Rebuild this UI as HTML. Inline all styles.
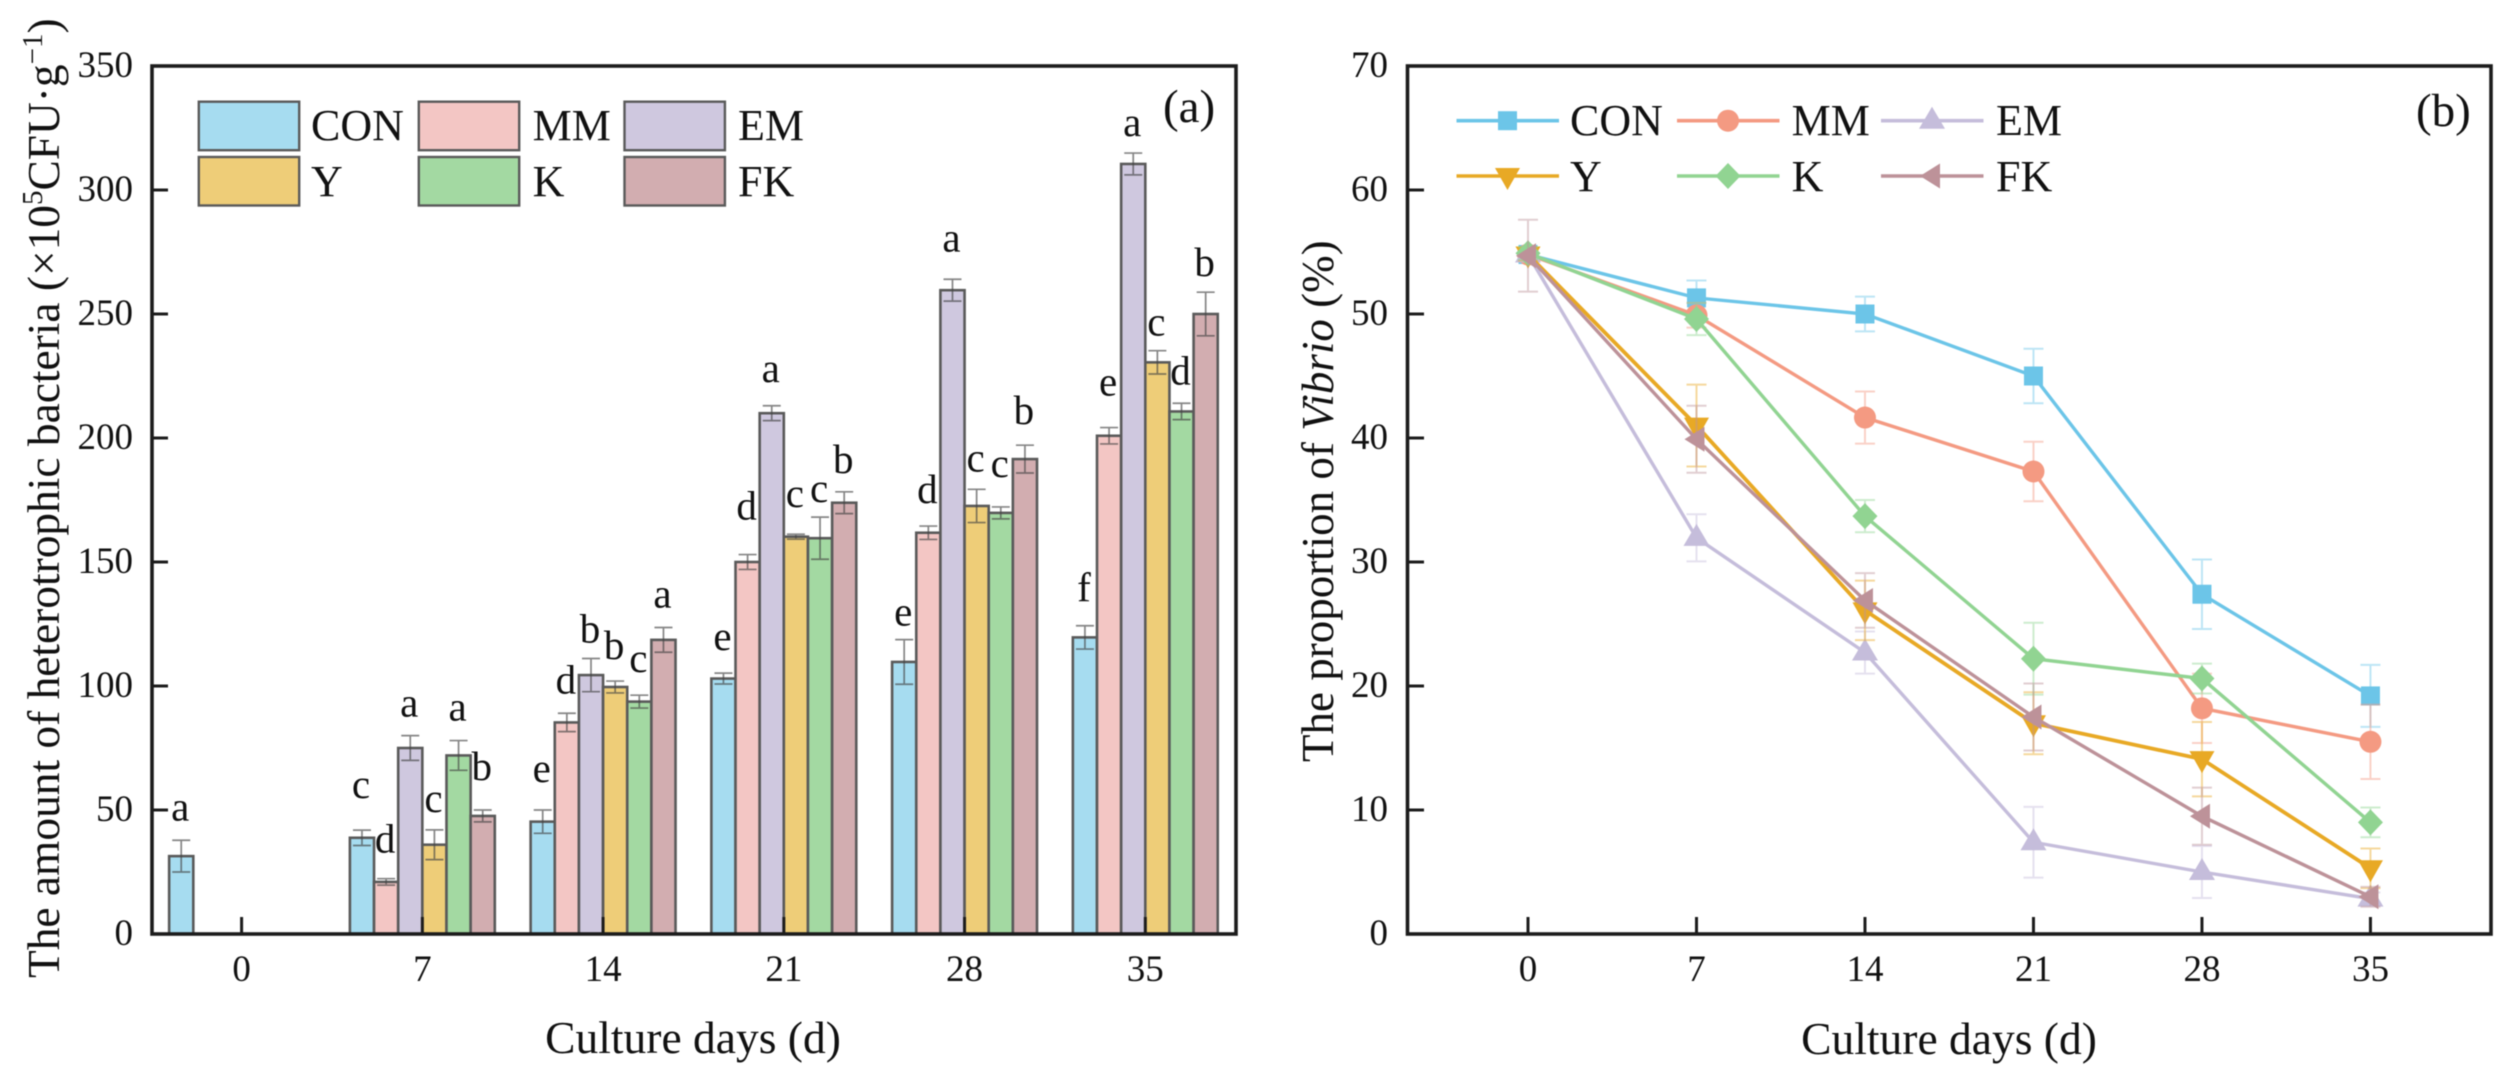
<!DOCTYPE html>
<html lang="en">
<head>
<meta charset="utf-8">
<title>Heterotrophic bacteria and Vibrio proportion over culture days</title>
<style>
  html, body { margin: 0; padding: 0; background: #fff; }
  svg { display: block; filter: blur(0.6px); }
  text { font-family: "Liberation Serif", serif; fill: #111; }
</style>
</head>
<body>
<svg id="figure" xmlns="http://www.w3.org/2000/svg" width="2515" height="1086" viewBox="0 0 2515 1086">
  <rect x="0" y="0" width="2515" height="1086" fill="#fff"/>
  <g id="panel-a"></g>
  <g id="panel-b"></g>

  <text transform="translate(59,978) rotate(-90)" font-size="45.4">The amount of heterotrophic bacteria (×10<tspan dy="-17" font-size="29">5</tspan><tspan dy="17">CFU·g</tspan><tspan dy="-17" font-size="29">−1</tspan><tspan dy="17">)</tspan></text>
  <text x="693" y="1053" font-size="45.5" text-anchor="middle">Culture days (d)</text>
  <text x="1163" y="122" font-size="47">(a)</text>

  <text transform="translate(1333,762) rotate(-90)" font-size="45">The proportion of <tspan font-style="italic">Vibrio</tspan> (%)</text>
  <text x="1949" y="1054" font-size="45.5" text-anchor="middle">Culture days (d)</text>
  <text x="2416" y="126" font-size="47">(b)</text>
</svg>

<script>
// ---------- shared categories ----------
const days = [0, 7, 14, 21, 28, 35];
const seriesNames = ['CON', 'MM', 'EM', 'Y', 'K', 'FK'];

// ---------- panel (a): heterotrophic bacteria ----------
const yTicksA = [0, 50, 100, 150, 200, 250, 300, 350];
const bacteriaCON = [31.4, 38.8, 45.3, 103, 109.7, 119.6];
const bacteriaMM  = [null, 21, 85.3, 150, 161.8, 200.9];
const bacteriaEM  = [null, 75, 104.4, 210, 259.6, 310.5];
const bacteriaY   = [null, 36, 99.6, 160.2, 172.6, 230.5];
const bacteriaK   = [null, 72, 93.7, 159.6, 169.8, 210.7];
const bacteriaFK  = [null, 47.6, 118.6, 173.9, 191.5, 250];
const bacteriaErrCON = [6.4, 3.1, 4.7, 2.2, 9, 4.7];
const bacteriaErrMM  = [null, 1.3, 3.7, 3, 2.7, 3.3];
const bacteriaErrEM  = [null, 5, 6.7, 3, 4.4, 4.4];
const bacteriaErrY   = [null, 6, 2.4, 1, 6.7, 4.7];
const bacteriaErrK   = [null, 6, 2.6, 8.5, 2.4, 3.3];
const bacteriaErrFK  = [null, 2.4, 5, 4.4, 5.6, 8.8];
const lettersCON = ['a', 'c', 'e', 'e', 'e', 'f'];
const lettersMM  = ['', 'd', 'd', 'd', 'd', 'e'];
const lettersEM  = ['', 'a', 'b', 'a', 'a', 'a'];
const lettersY   = ['', 'c', 'b', 'c', 'c', 'c'];
const lettersK   = ['', 'a', 'c', 'c', 'c', 'd'];
const lettersFK  = ['', 'b', 'a', 'b', 'b', 'b'];

// ---------- panel (b): proportion of Vibrio ----------
const yTicksB = [0, 10, 20, 30, 40, 50, 60, 70];
const vibrioCON = [54.8, 51.3, 50, 45, 27.4, 19.2];
const vibrioMM  = [54.8, 49.9, 41.65, 37.3, 18.2, 15.5];
const vibrioEM  = [54.8, 31.95, 22.7, 7.4, 5, 2.85];
const vibrioY   = [54.8, 41, 26.1, 17, 14.1, 5.3];
const vibrioK   = [54.9, 49.6, 33.7, 22.2, 20.6, 9];
const vibrioFK  = [54.7, 39.9, 26.9, 17.5, 9.5, 3];
const vibrioErrCON = [0.5, 1.4, 1.4, 2.2, 2.8, 2.5];
const vibrioErrMM  = [0.5, 1, 2.1, 2.4, 2.8, 3];
const vibrioErrEM  = [0.5, 1.9, 1.7, 2.85, 2.1, 0.5];
const vibrioErrY   = [0.5, 3.3, 2.4, 2.5, 3, 1.6];
const vibrioErrK   = [0.5, 1.3, 1.3, 2.9, 1.2, 1.2];
const vibrioErrFK  = [2.9, 2.7, 2.2, 2.7, 2.3, 0.8];

const bacteria = [bacteriaCON, bacteriaMM, bacteriaEM, bacteriaY, bacteriaK, bacteriaFK];
const bacteriaErr = [bacteriaErrCON, bacteriaErrMM, bacteriaErrEM, bacteriaErrY, bacteriaErrK, bacteriaErrFK];
const letters = [lettersCON, lettersMM, lettersEM, lettersY, lettersK, lettersFK];
const vibrio = [vibrioCON, vibrioMM, vibrioEM, vibrioY, vibrioK, vibrioFK];
const vibrioErr = [vibrioErrCON, vibrioErrMM, vibrioErrEM, vibrioErrY, vibrioErrK, vibrioErrFK];

// ---------- styling ----------
const barFill = ['#a6dcf0', '#f3c6c4', '#cfc8df', '#eecd78', '#a3d9a2', '#d2adb0'];
const lineColor = ['#6cc5e8', '#f49a82', '#c5bddb', '#e8a925', '#91d492', '#bd9299'];

// ---------- axis functions ----------
function xA(day) { return 241.6 + day * 25.82; }
function yA(v) { return 934 - v * 2.48; }
function xB(day) { return 1528 + day * 24.07; }
function yB(v) { return 934 - v * 12.4; }
const barW = 24.15;

const NS = 'http://www.w3.org/2000/svg';
function make(tag, attrs, parent) {
  const node = document.createElementNS(NS, tag);
  for (const k in attrs) node.setAttribute(k, attrs[k]);
  parent.appendChild(node);
  return node;
}

function marker(shape, cx, cy, color, parent) {
  let node;
  if (shape === 0) node = make('rect', { x: cx - 9.5, y: cy - 9.5, width: 19, height: 19, fill: color }, parent);
  else if (shape === 1) node = make('circle', { cx: cx, cy: cy, r: 11, fill: color }, parent);
  else if (shape === 2) node = make('polygon', { points: [cx, cy - 14, cx + 13, cy + 8, cx - 13, cy + 8].join(' '), fill: color }, parent);
  else if (shape === 3) node = make('polygon', { points: [cx - 12.5, cy - 8, cx + 12.5, cy - 8, cx, cy + 14].join(' '), fill: color }, parent);
  else if (shape === 4) node = make('polygon', { points: [cx, cy - 13, cx + 12.5, cy, cx, cy + 13, cx - 12.5, cy].join(' '), fill: color }, parent);
  else node = make('polygon', { points: [cx - 12, cy, cx + 8, cy - 12.5, cx + 8, cy + 12.5].join(' '), fill: color }, parent);
  return node;
}

function drawPanelA() {
  const g = document.getElementById('panel-a');
  // per-bar annotation placement (label lift above the error cap)
  const lift = [[20, 0, 0, 0, 0, 0], [32, 26, 19, 18, 20, 30], [28, 20, 16, 22, 23, 20],
                [23, 35, 24, 27, 15, 19], [14, 23, 28, 18, 30, 21], [24, 32, 17, 15, 19, 16]];

  days.forEach(function (day, di) {
    seriesNames.forEach(function (name, si) {
      const v = bacteria[si][di];
      if (v === null) return;
      const cx = xA(day) + (si - 2.5) * barW;
      const bar = make('rect', { x: cx - barW / 2, y: yA(v), width: barW, height: yA(0) - yA(v), fill: barFill[si], stroke: '#5a5a5a', 'stroke-width': 2.6 }, g);
      
      
    });
    seriesNames.forEach(function (name, si) {
      const v = bacteria[si][di];
      if (v === null) return;
      const e = bacteriaErr[si][di];
      const cx = xA(day) + (si - 2.5) * barW;
      const err = make('path', {
        d: 'M' + cx + ' ' + yA(v + e) + 'V' + yA(v - e) + 'M' + (cx - 9) + ' ' + yA(v + e) + 'H' + (cx + 9) + 'M' + (cx - 9) + ' ' + yA(v - e) + 'H' + (cx + 9),
        fill: 'none', stroke: '#444', 'stroke-width': 1.7, opacity: 0.65
      }, g);
      
      
      const t = make('text', { x: cx - 1, y: yA(v + e) - lift[di][si], 'font-size': 41, 'text-anchor': 'middle' }, g);
      t.textContent = letters[si][di];
      
      
    });
  });

  const frame = make('rect', { x: 152, y: yA(350), width: 1084, height: yA(0) - yA(350), fill: 'none', stroke: '#1c1c1c', 'stroke-width': 3.6 }, g);
  
  

  yTicksA.forEach(function (v) {
    if (v > 0 && v < 350) {
      const tick = make('line', { x1: 152, x2: 168, y1: yA(v), y2: yA(v), stroke: '#1c1c1c', 'stroke-width': 3 }, g);
      
      
    }
    const label = make('text', { x: 133, y: yA(v) + 11, 'font-size': 37, 'text-anchor': 'end' }, g);
    label.textContent = v;
    
    
  });
  days.forEach(function (day) {
    const tick = make('line', { x1: xA(day), x2: xA(day), y1: 934, y2: 917, stroke: '#1c1c1c', 'stroke-width': 3 }, g);
    
    
    const label = make('text', { x: xA(day), y: 981, 'font-size': 37, 'text-anchor': 'middle' }, g);
    label.textContent = day;
    
    
  });

  // legend
  const colX = [198.8, 418.8, 624.5];
  const colTextX = [311, 532.6, 738];
  const rowY = [101.7, 157];
  const rowText = [140, 196];
  seriesNames.forEach(function (name, si) {
    const c = si % 3, r = Math.floor(si / 3);
    const sw = make('rect', { x: colX[c], y: rowY[r], width: 100.4, height: 48.5, fill: barFill[si], stroke: '#5a5a5a', 'stroke-width': 2.4 }, g);
    
    
    const t = make('text', { x: colTextX[c], y: rowText[r], 'font-size': 44 }, g);
    t.textContent = name;
    
    
  });
}

function drawPanelB() {
  const g = document.getElementById('panel-b');

  const frame = make('rect', { x: 1407.5, y: yB(70), width: 1083.5, height: yB(0) - yB(70), fill: 'none', stroke: '#1c1c1c', 'stroke-width': 3.6 }, g);
  
  

  yTicksB.forEach(function (v) {
    if (v > 0 && v < 70) {
      const tick = make('line', { x1: 1407.5, x2: 1424, y1: yB(v), y2: yB(v), stroke: '#1c1c1c', 'stroke-width': 3 }, g);
      
      
    }
    const label = make('text', { x: 1388, y: yB(v) + 11, 'font-size': 37, 'text-anchor': 'end' }, g);
    label.textContent = v;
    
    
  });
  days.forEach(function (day) {
    const tick = make('line', { x1: xB(day), x2: xB(day), y1: 934, y2: 917, stroke: '#1c1c1c', 'stroke-width': 3 }, g);
    
    
    const label = make('text', { x: xB(day), y: 981, 'font-size': 37, 'text-anchor': 'middle' }, g);
    label.textContent = day;
    
    
  });

  seriesNames.forEach(function (name, si) {
    const color = lineColor[si];
    days.forEach(function (day, di) {
      const v = vibrio[si][di], e = vibrioErr[si][di], cx = xB(day);
      const err = make('path', {
        d: 'M' + cx + ' ' + yB(v + e) + 'V' + yB(v - e) + 'M' + (cx - 10) + ' ' + yB(v + e) + 'H' + (cx + 10) + 'M' + (cx - 10) + ' ' + yB(v - e) + 'H' + (cx + 10),
        fill: 'none', stroke: color, 'stroke-width': 2, opacity: 0.45
      }, g);
      
      
    });
    const pts = days.map(function (day, di) { return xB(day) + ',' + yB(vibrio[si][di]); }).join(' ');
    const line = make('polyline', { points: pts, fill: 'none', stroke: color, 'stroke-width': si === 3 ? 3.8 : 3.4 }, g);
    
    
    days.forEach(function (day, di) {
      const m = marker(si, xB(day), yB(vibrio[si][di]), color, g);
      
      
    });
  });

  // legend
  const colX = [1456.5, 1677, 1881];
  const colTextX = [1570, 1791.6, 1996];
  const rowY = [120.7, 176];
  const rowText = [135, 191];
  seriesNames.forEach(function (name, si) {
    const c = si % 3, r = Math.floor(si / 3);
    const ln = make('line', { x1: colX[c], x2: colX[c] + 102.5, y1: rowY[r], y2: rowY[r], stroke: lineColor[si], 'stroke-width': 3.6 }, g);
    
    
    const m = marker(si, colX[c] + 51, rowY[r], lineColor[si], g);
    
    
    const t = make('text', { x: colTextX[c], y: rowText[r], 'font-size': 44 }, g);
    t.textContent = name;
    
    
  });
}

drawPanelA();
drawPanelB();
</script>
</body>
</html>
